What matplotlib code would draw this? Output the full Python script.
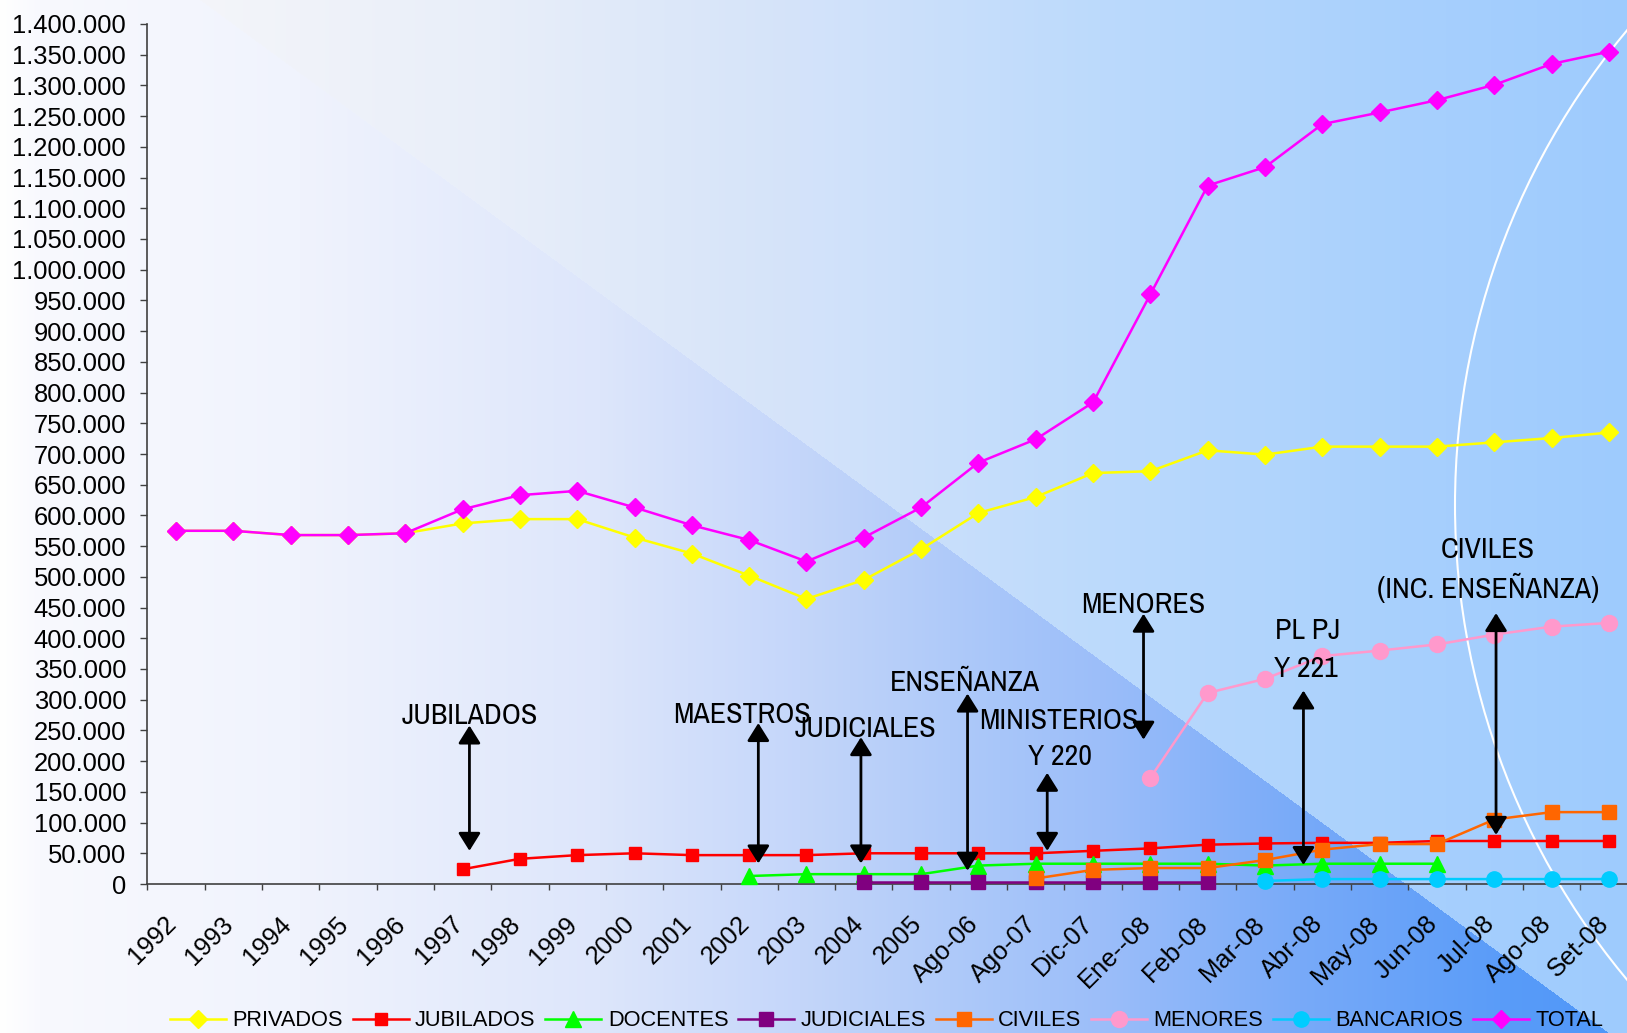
import numpy as np
import matplotlib
matplotlib.use("Agg")
import matplotlib.pyplot as plt
from matplotlib.patches import Ellipse
from matplotlib.transforms import ScaledTranslation
from matplotlib import font_manager

nan = np.nan

categories = ['1992', '1993', '1994', '1995', '1996', '1997', '1998', '1999', '2000',
              '2001', '2002', '2003', '2004', '2005', 'Ago-06', 'Ago-07', 'Dic-07',
              'Ene--08', 'Feb-08', 'Mar-08', 'Abr-08', 'May-08', 'Jun-08', 'Jul-08',
              'Ago-08', 'Set-08']

privados = [575000, 575000, 568000, 568000, 571000, 587000, 594000, 594000, 564000,
            538000, 502000, 464000, 495000, 545000, 604000, 630000, 669000, 672000,
            706000, 699000, 712000, 712000, 712000, 719000, 726000, 735000]
jubilados = [nan, nan, nan, nan, nan, 24000, 41000, 47000, 50000, 47000, 47000, 47000,
             50000, 50000, 50000, 50000, 54000, 58000, 64000, 66000, 67000, 67000,
             70000, 70000, 70000, 70000]
docentes = [nan, nan, nan, nan, nan, nan, nan, nan, nan, nan, 13000, 16000, 16000,
            16000, 30000, 33000, 33000, 33000, 33000, 30000, 33000, 33000, 33000,
            nan, nan, nan]
judiciales = [nan] * 12 + [3000, 3000, 3000, 3000, 3000, 3000, 3000] + [nan] * 7
civiles = [nan] * 15 + [9000, 23000, 26000, 26000, 39000, 56000, 65000, 65000,
                        105000, 117000, 117000]
menores = [nan] * 17 + [173000, 311000, 334000, 371000, 380000, 390000, 406000,
                        419000, 425000]
bancarios = [nan] * 19 + [5000, 8000, 8000, 8000, 8000, 8000, 8000]
total = [575000, 575000, 568000, 568000, 571000, 610000, 633000, 640000, 613000,
         584000, 560000, 525000, 564000, 613000, 686000, 724000, 784000, 960000,
         1137000, 1167000, 1237000, 1256000, 1276000, 1301000, 1335000, 1355000]

series_names = ['PRIVADOS', 'JUBILADOS', 'DOCENTES', 'JUDICIALES', 'CIVILES',
                'MENORES', 'BANCARIOS', 'TOTAL']

# annotation texts (one entry per line) and their positions (category index, value)
ann_labels = ['JUBILADOS', 'MAESTROS', 'JUDICIALES', 'ENSEÑANZA', 'MINISTERIOS', 'Y 220',
              'MENORES', 'PL PJ', 'Y 221', 'CIVILES', '(INC. ENSEÑANZA)']
ann_text_x = [5.12, 9.88, 12.03, 13.76, 15.41, 15.42, 16.87, 19.75, 19.71, 22.88, 22.90]
ann_text_y = [275000, 276000, 253000, 328000, 266000, 208000, 455000, 412000, 351000,
              544000, 482000]
# double-headed arrows: x (category index), top value, bottom value
arrow_x = [5.12, 10.16, 11.95, 13.81, 15.2, 16.88, 19.67, 23.03]
arrow_top = [258000, 262000, 239000, 310000, 181000, 440000, 315000, 441000]
arrow_bottom = [54000, 33500, 33500, 21700, 54000, 235000, 31000, 80000]

W, H = 1627, 1033
fig = plt.figure(figsize=(W / 100, H / 100), dpi=100)

available = {f.name for f in font_manager.fontManager.ttflist}
narrow_font = 'Liberation Sans'
for cand in ['Liberation Sans Narrow', 'Arial Narrow', 'Archivo Narrow', 'PT Sans Narrow',
             'Roboto Condensed', 'Arimo Narrow', 'Open Sans Condensed', 'Fira Sans Condensed',
             'IBM Plex Sans Condensed', 'Encode Sans Condensed']:
    if cand in available:
        narrow_font = cand
        break

# ---- background ----
def hex2rgb(h):
    h = h.lstrip('#')
    return np.array([int(h[i:i + 2], 16) / 255 for i in (0, 2, 4)])

upper_stops = [(0, '#fafafd'), (200, '#f4f5fa'), (500, '#e8eefa'), (800, '#d4e3fa'),
               (1100, '#bcdafc'), (1400, '#a8d0fd'), (1627, '#9ecbfd')]
lower_stops = [(0, '#ffffff'), (40, '#f8f9fe'), (300, '#f0f3fd'), (600, '#dde6fb'),
               (800, '#c4d6fa'), (1000, '#a8c6fa'), (1100, '#9cbefa'), (1300, '#78aaf8'),
               (1500, '#5a9cf8'), (1627, '#4d96f8')]

xs = np.arange(W)
def grad(stops):
    px = [s[0] for s in stops]
    cols = np.array([hex2rgb(s[1]) for s in stops])
    return np.stack([np.interp(xs, px, cols[:, k]) for k in range(3)], axis=1)

up = grad(upper_stops)
lo = grad(lower_stops)
yy, xx = np.mgrid[0:H, 0:W]
diag_y = (xx - 200) * (1033 / 1409)
below = yy > diag_y
img = np.where(below[..., None], lo[None, :, :], up[None, :, :])

bg = fig.add_axes([0, 0, 1, 1], zorder=-10)
bg.imshow(img, aspect='auto', extent=(0, 1, 0, 1), origin='upper', interpolation='bilinear')
bg.add_patch(Ellipse((2196 / W, 1 - 505 / H), 2 * 741 / W, 2 * 741 / H,
                     transform=bg.transAxes, fill=False, ec='white', lw=1.5))
bg.set_xlim(0, 1)
bg.set_ylim(0, 1)
bg.axis('off')

# ---- main axes ----
left = 147.3 / W
width = 26 * 57.32 / W
bottom = (H - 884) / H
height = 860 / H
ax = fig.add_axes([left, bottom, width, height])
ax.patch.set_alpha(0)

x = np.arange(len(categories))
styles = [
    (privados, '#ffff00', 'D', 9.0),
    (jubilados, '#ff0000', 's', 8.5),
    (docentes, '#00ff00', '^', 11),
    (judiciales, '#800080', 's', 10.5),
    (civiles, '#ff6600', 's', 10.5),
    (menores, '#ff99cc', 'o', 11.5),
    (bancarios, '#00ccff', 'o', 11),
    (total, '#ff00ff', 'D', 9.0),
]
for i, (vals, col, mk, ms) in enumerate(styles):
    ax.plot(x, np.array(vals, dtype=float), color=col, marker=mk, ms=ms, lw=1.8,
            mec=col, mfc=col, label=series_names[i], zorder=3 + i, clip_on=False)

ax.set_xlim(-0.5, len(categories) - 0.5)
ax.set_ylim(0, 1400000)

yt = np.arange(0, 1400001, 50000)
ax.set_yticks(yt)
ax.set_yticklabels([f"{int(v):,}".replace(',', '.') for v in yt],
                   fontsize=18.4, family='Liberation Sans')
ax.tick_params(axis='y', direction='out', length=5.3, width=1.0, color='#404040', pad=10)

ax.set_xticks(x)
ax.set_xticklabels(categories, fontsize=18.4, family='Liberation Sans', rotation=45,
                   ha='right', va='top', rotation_mode='anchor')
ax.set_xticks(np.arange(-0.5, len(categories), 1), minor=True)
ax.tick_params(axis='x', which='major', length=0, pad=20)
ax.tick_params(axis='x', which='minor', direction='out', length=4.3, width=1.0, color='#404040')
off = ScaledTranslation(-12 / 100, 0, fig.dpi_scale_trans)
for lbl in ax.get_xticklabels():
    lbl.set_transform(lbl.get_transform() + off)

for s in ['top', 'right']:
    ax.spines[s].set_visible(False)
for s in ['left', 'bottom']:
    ax.spines[s].set_color('#404040')
    ax.spines[s].set_linewidth(1.2)

# ---- annotations ----
for axx, at, ab in zip(arrow_x, arrow_top, arrow_bottom):
    ax.annotate('', xy=(axx, ab), xytext=(axx, at),
                arrowprops=dict(arrowstyle='<|-|>,head_length=0.4,head_width=0.25',
                                color='black', lw=2, mutation_scale=27,
                                shrinkA=0, shrinkB=0), zorder=20)
ann_size = 21.5 if narrow_font != 'Liberation Sans' else 18
for lab, tx, ty in zip(ann_labels, ann_text_x, ann_text_y):
    ax.text(tx, ty, lab, ha='center', va='center', fontsize=ann_size,
            family=[narrow_font, 'Liberation Sans', 'DejaVu Sans'], color='black',
            zorder=21)

# ---- legend ----
leg = fig.legend(*ax.get_legend_handles_labels(), loc='center', ncol=8,
                 bbox_to_anchor=(0.545, 1 - 1021 / H), frameon=False,
                 prop={'family': 'Liberation Sans', 'size': 15.7},
                 handlelength=2.56, handletextpad=0.3, columnspacing=0.45,
                 borderpad=0, borderaxespad=0)

fig.savefig('out.png', dpi=100)
